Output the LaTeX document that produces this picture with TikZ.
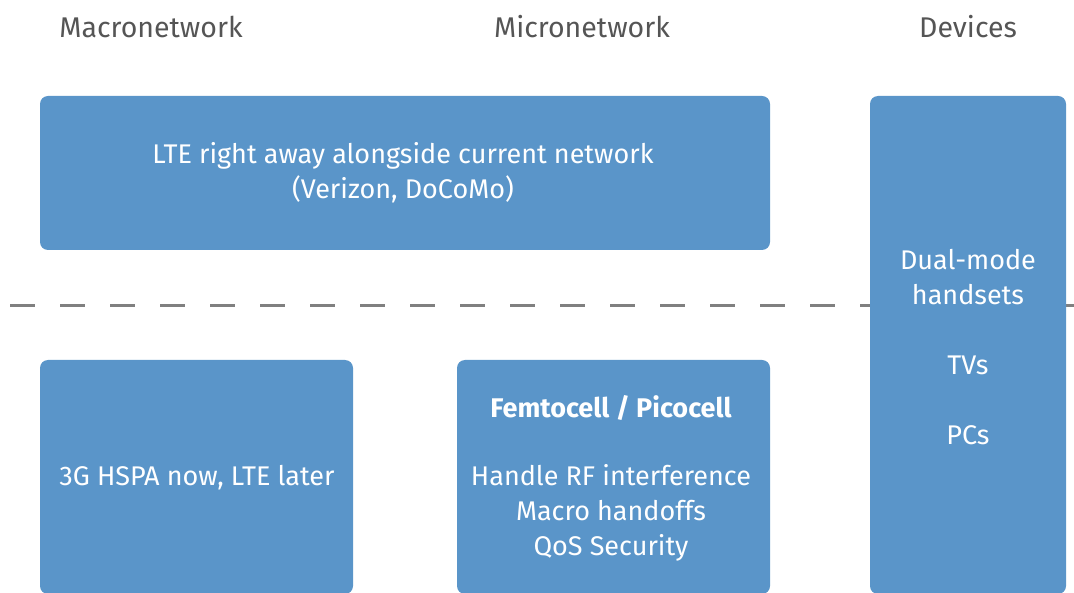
\documentclass[tikz,border=0pt]{standalone}
\usepackage{fontspec}
\setmainfont{Fira Sans}
\definecolor{panel}{RGB}{90,149,201}
\definecolor{headgray}{RGB}{85,85,85}
\definecolor{divider}{RGB}{128,128,128}
\tikzset{
  panelbox/.style={fill=panel, draw=none, rounded corners=8pt, inner sep=0pt},
  head/.style={text=headgray, font=\fontsize{28.5}{32}\selectfont, anchor=center},
  body/.style={text=white, font=\fontsize{27}{35}\selectfont, align=center, anchor=center},
}
\begin{document}
\begin{tikzpicture}[x=1pt,y=-1pt]
  \useasboundingbox (0,0) rectangle (1074,593);
  % divider between the two rows
  \coordinate (dl) at (10,306);
  \coordinate (dr) at (1074,306);
  \draw[divider, line width=3pt, dash pattern=on 25pt off 25pt] (dl) -- (dr);
  % column headings
  \node[head] (hmacro) at (151,27) {Macronetwork};
  \node[head] (hmicro) at (582,27) {Micronetwork};
  \node[head] (hdev) at (968,27) {Devices};
  % panels
  \path[panelbox] (40,96) rectangle (770,250);
  \path[panelbox] (870,96) rectangle (1066,594);
  \path[panelbox] (40,360) rectangle (353,594);
  \path[panelbox] (457,360) rectangle (770,594);
  % panel texts
  \node[body] (lte) at (403,173) {LTE right away alongside current network\\(Verizon, DoCoMo)};
  \node[body] (dual) at (968,277) {Dual-mode\\handsets};
  \node[body] (tvs) at (968,365) {TVs};
  \node[body] (pcs) at (968,435) {PCs};
  \node[body] (hspa) at (197,478) {3G HSPA now, LTE later};
  \node[body, font=\bfseries\fontsize{27}{35}\selectfont] (femto) at (611,408) {Femtocell / Picocell};
  \node[body] (tasks) at (611,513) {Handle RF interference\\Macro handoffs\\QoS Security};
\end{tikzpicture}
\end{document}
